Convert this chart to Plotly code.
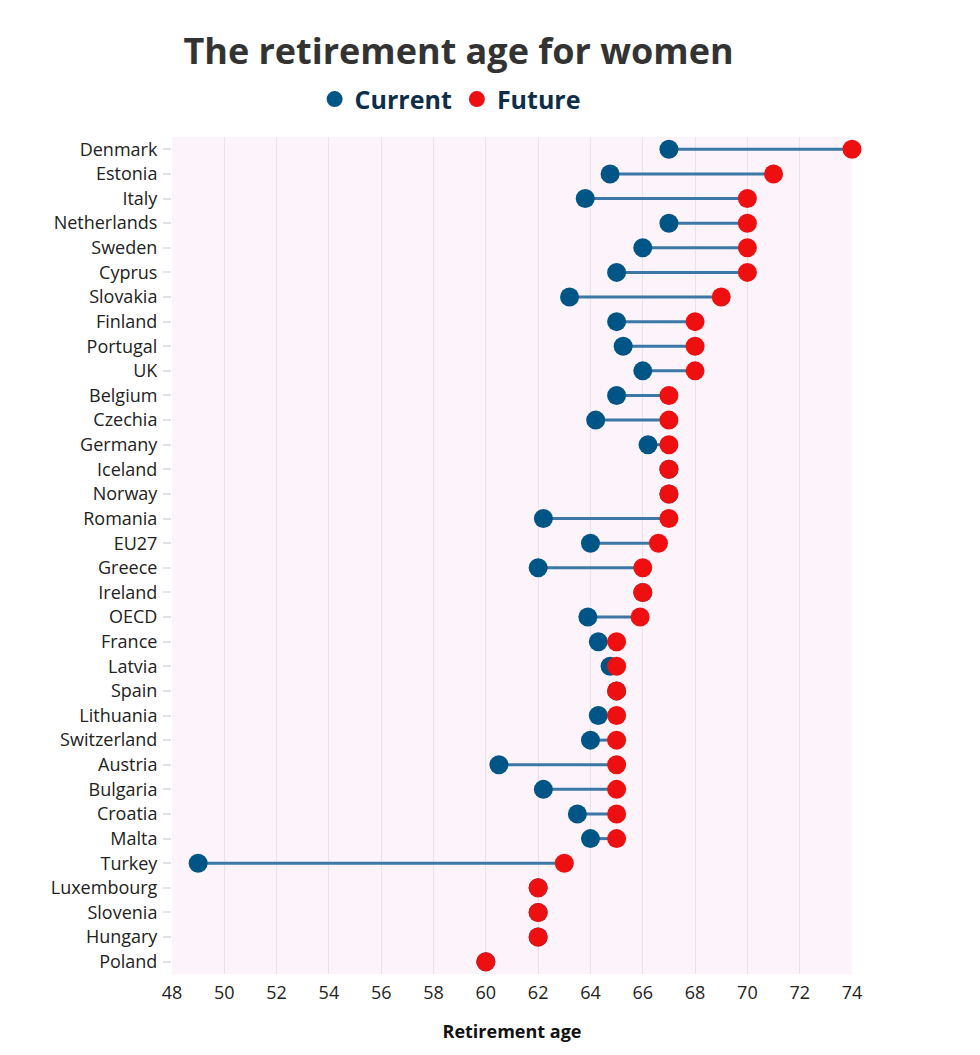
import plotly.graph_objects as go

countries = ["Denmark", "Estonia", "Italy", "Netherlands", "Sweden", "Cyprus",
             "Slovakia", "Finland", "Portugal", "UK", "Belgium", "Czechia",
             "Germany", "Iceland", "Norway", "Romania", "EU27", "Greece",
             "Ireland", "OECD", "France", "Latvia", "Spain", "Lithuania",
             "Switzerland", "Austria", "Bulgaria", "Croatia", "Malta", "Turkey",
             "Luxembourg", "Slovenia", "Hungary", "Poland"]
current = [67, 64.75, 63.8, 67, 66, 65,
           63.2, 65, 65.25, 66, 65, 64.2,
           66.2, 67, 67, 62.2, 64, 62,
           66, 63.9, 64.3, 64.75, 65, 64.3,
           64, 60.5, 62.2, 63.5, 64, 49,
           62, 62, 62, 60]
future = [74, 71, 70, 70, 70, 70,
          69, 68, 68, 68, 67, 67,
          67, 67, 67, 67, 66.6, 66,
          66, 65.9, 65, 65, 65, 65,
          65, 65, 65, 65, 65, 63,
          62, 62, 62, 60]

FONT = "Open Sans"
BLUE = "#005587"
RED = "#ee1010"

# connecting segments, one per country, separated by None
seg_x, seg_y = [], []
for c, cur, fut in zip(countries, current, future):
    seg_x += [cur, fut, None]
    seg_y += [c, c, None]

fig = go.Figure()
fig.add_trace(go.Scatter(x=seg_x, y=seg_y, mode="lines",
                         line=dict(color="#3b78a6", width=3),
                         showlegend=False, hoverinfo="skip", cliponaxis=False))
fig.add_trace(go.Scatter(x=current, y=countries, mode="markers", name="Current",
                         marker=dict(color=BLUE, size=19), cliponaxis=False))
fig.add_trace(go.Scatter(x=future, y=countries, mode="markers", name="Future",
                         marker=dict(color=RED, size=19), cliponaxis=False))

fig.update_layout(
    width=980, height=1055,
    margin=dict(l=164, r=136, t=129, b=89),
    paper_bgcolor="white",
    plot_bgcolor="#fdf3fa",
    font=dict(family=FONT, size=18, color="#222222"),
    title=dict(text="<b>The retirement age for women</b>",
               x=0.4597, xref="container", xanchor="center",
               y=0.9586, yref="container", yanchor="middle",
               font=dict(family=FONT, size=36, color="#333333")),
    legend=dict(orientation="h", x=0.409, xanchor="center", y=1.045, yanchor="middle",
                font=dict(family=FONT, size=25, color="#0d2d4a", weight="bold"),
                itemsizing="trace", itemwidth=30, tracegroupgap=0,
                bgcolor="rgba(0,0,0,0)"),
    xaxis=dict(range=[48, 74], dtick=2, tick0=48, showgrid=True,
               gridcolor="#e6e4ea", gridwidth=1, zeroline=False,
               showline=False, ticks="", tickfont=dict(size=18),
               ticklabelstandoff=6, automargin=False,
               title=dict(text="<b>Retirement age</b>", standoff=22,
                          font=dict(family=FONT, size=18, color="#111111"))),
    yaxis=dict(range=[len(countries) - 0.5, -0.5], showgrid=False, zeroline=False,
               ticks="outside", ticklen=8, tickcolor="#e2e2e2", tickwidth=2,
               tickfont=dict(size=18), ticklabelstandoff=2, automargin=False),
)

fig.write_html("out.html")
